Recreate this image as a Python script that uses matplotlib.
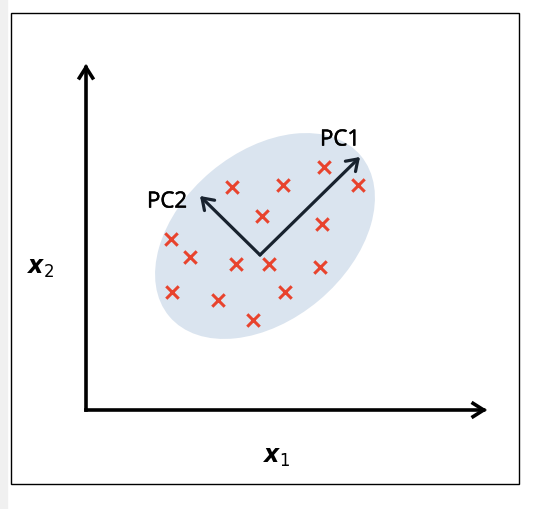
import matplotlib.pyplot as plt
import matplotlib.patheffects as pe
from matplotlib.patches import Ellipse, Rectangle, FancyArrowPatch

# sample points (x1, x2), origin at the axes corner
x1_pts = [146, 197, 238, 272, 176, 236, 85, 104, 150, 183, 234, 86, 132, 199, 167]
x2_pts = [223, 225, 243, 225, 194, 186, 171, 153, 146, 146, 143, 118, 110, 118, 90]

# principal component arrows
pc_origin = (174, 155)
pc1_tip = (274, 253)
pc2_tip = (114, 214)
pc_labels = ["PC1", "PC2"]

# data cloud ellipse
ell_center = (179, 174)
ell_width, ell_height, ell_angle = 250, 168, 40

x_axis_len = 401
y_axis_len = 346

fig = plt.figure(figsize=(5.53, 5.10), dpi=100)
fig.patch.set_facecolor("white")
ax = fig.add_axes([0, 0, 1, 1])
ax.set_xlim(-86, 467)
ax.set_ylim(-99, 411)
ax.axis("off")

# light grey strip on the left and the frame
fig.patches.append(Rectangle((0, 0), 7 / 553, 1, transform=fig.transFigure,
                             color="#f0f0f0", zorder=0))
ax.add_patch(Rectangle((-75, -74), 508, 471, fill=False, edgecolor="black",
                       linewidth=1.0, zorder=1))

ax.add_patch(Ellipse(ell_center, ell_width, ell_height, angle=ell_angle,
                     facecolor="#dae4ef", edgecolor="none", zorder=2))

# axes arrows
arrow_kw = dict(arrowstyle="->,head_length=0.38,head_width=0.24", color="black",
                linewidth=2.6, mutation_scale=20, shrinkA=0, shrinkB=0,
                joinstyle="miter", capstyle="projecting", zorder=3)
ax.add_patch(FancyArrowPatch((0, 0), (x_axis_len, 0), **arrow_kw))
ax.add_patch(FancyArrowPatch((0, 0), (0, y_axis_len), **arrow_kw))

ax.scatter(x1_pts, x2_pts, marker="x", s=80, color="#e8432d", linewidths=2.2, zorder=4)

pc_kw = dict(arrowstyle="->,head_length=0.38,head_width=0.26", color="#18222e",
             linewidth=2.3, mutation_scale=20, shrinkA=0, shrinkB=0, zorder=5)
ax.add_patch(FancyArrowPatch(pc_origin, pc1_tip, **pc_kw))
ax.add_patch(FancyArrowPatch(pc_origin, pc2_tip, **pc_kw))

thick = [pe.withStroke(linewidth=0.4, foreground="black")]
ax.text(254, 270, pc_labels[0], fontsize=16, family="Open Sans", color="black",
        ha="center", va="center", zorder=6, path_effects=thick)
ax.text(81, 208, pc_labels[1], fontsize=16, family="Open Sans", color="black",
        ha="center", va="center", zorder=6, path_effects=thick)

ax.text(191, -46, r"$\boldsymbol{x}_1$", fontsize=17, ha="center", va="center")
ax.text(-45, 143, r"$\boldsymbol{x}_2$", fontsize=17, ha="center", va="center")

fig.savefig("out.png", dpi=100)
